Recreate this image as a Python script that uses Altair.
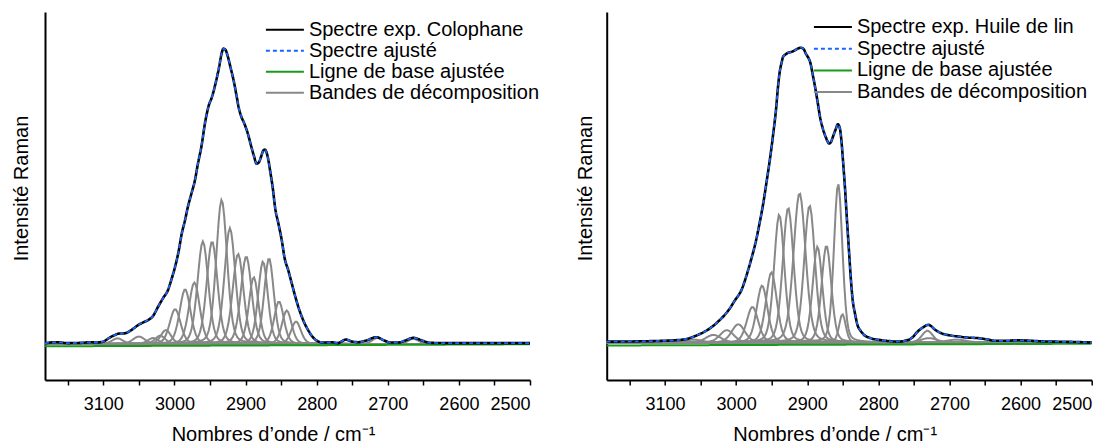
import numpy as np
import pandas as pd
import altair as alt

# ---------------- data ----------------
# Left panel: Colophane (wavenumber cm-1, relative Raman intensity)
col_wn = [3182, 3168, 3150, 3130, 3117, 3110, 3100, 3092, 3084, 3078, 3070, 3060,
          3051, 3044, 3037, 3030, 3023, 3016, 3009, 3004, 2999, 2994, 2990, 2985,
          2981, 2976, 2971, 2967, 2962, 2957, 2952, 2947, 2942, 2937, 2934, 2931,
          2928, 2925, 2921, 2917, 2913, 2910, 2906, 2902, 2897, 2892, 2888, 2884.5,
          2881, 2878, 2875, 2873, 2870, 2868, 2865, 2862, 2858, 2854, 2849, 2845,
          2840, 2835, 2830, 2825, 2821, 2816, 2812, 2807, 2802, 2796, 2790, 2780,
          2770, 2759, 2750, 2741, 2730, 2716, 2706, 2696, 2685, 2675, 2664, 2652,
          2641, 2620, 2600, 2550, 2520, 2500]
col_int = [0.2, 0.6, 0.3, 0.4, 0.6, 0.5, 0.8, 2.0, 3.0, 3.5, 3.6, 4.8,
           6.4, 7.3, 8.1, 9.5, 12.6, 15.5, 18.3, 22.0, 26.2, 31.5, 37.0, 42.0,
           46.5, 51.0, 55.6, 61.0, 66.9, 74.8, 80.5, 83.8, 88.4, 94.0, 98.0, 100.0,
           99.5, 97.4, 93.5, 89.5, 84.5, 80.5, 77.0, 74.8, 71.4, 66.9, 63.5, 61.0,
           61.6, 63.5, 65.5, 65.8, 64.5, 62.4, 58.0, 53.3, 45.5, 41.0, 35.0, 29.0,
           25.0, 20.5, 16.0, 12.0, 9.3, 6.5, 4.7, 2.8, 1.5, 0.7, 0.5, 0.6,
           0.3, 1.5, 0.8, 0.6, 1.2, 2.3, 1.3, 0.5, 0.5, 1.2, 2.1, 1.2,
           0.4, 0.3, 0.3, 0.3, 0.3, 0.3]
col_base_wn = [3182, 2500]
col_base_int = [-0.8, -0.1]
# decomposition bands: centre, height, FWHM
col_band_c = [3168, 3080, 3050, 3030, 3020, 3012, 2999, 2985, 2972, 2960, 2947,
              2933.6, 2922, 2910.5, 2899, 2888.5, 2875.5, 2867, 2853, 2842, 2829,
              2759, 2714, 2664]
col_band_h = [0.6, 1.9, 2.5, 2.0, 2.8, 4.7, 11.8, 18.5, 20.8, 34.7, 34.7,
              48.8, 39.2, 30.5, 29.6, 22.6, 27.9, 29.0, 14.4, 11.3, 7.6,
              1.4, 2.1, 1.7]
col_band_w = [16, 18, 20, 18, 17, 17, 18, 18, 18, 18, 18,
              18, 18, 18, 18, 16, 16, 16, 16, 16, 16,
              16, 18, 18]

# Right panel: Huile de lin
lin_wn = [3182, 3140, 3102, 3085, 3072, 3062, 3052, 3042, 3032, 3025, 3017, 3010,
          3002, 2992, 2987, 2982, 2977, 2972, 2967, 2962, 2957, 2952, 2948, 2944,
          2941, 2939, 2936, 2934, 2930, 2927, 2923, 2919, 2914, 2909, 2905, 2902,
          2899, 2896, 2892, 2889, 2885, 2882, 2878, 2874, 2869, 2866, 2864, 2860,
          2857, 2854, 2852, 2849.5, 2847, 2844, 2841, 2838.5, 2836, 2833, 2829, 2825,
          2821, 2811, 2796, 2785, 2771, 2763, 2756, 2751, 2746, 2741, 2736, 2732,
          2729, 2725, 2721, 2716, 2711, 2703, 2696, 2686, 2676, 2666, 2656, 2646,
          2636, 2620, 2606, 2595, 2585, 2570, 2550, 2525, 2500]
lin_int = [0.3, 0.4, 0.6, 0.8, 1.1, 1.8, 2.8, 4.0, 5.7, 7.2, 9.1, 11.2,
           14.2, 18.1, 21.5, 25.5, 29.8, 34.6, 40.5, 47.0, 54.8, 63.0, 70.5, 78.8,
           87.0, 91.3, 95.0, 96.9, 97.8, 98.3, 98.5, 98.9, 99.6, 100.0, 99.5, 98.0,
           96.8, 95.2, 90.5, 86.7, 81.0, 76.5, 72.5, 69.7, 67.5, 68.3, 69.7, 72.3,
           74.0, 72.5, 68.6, 61.0, 52.7, 41.0, 30.0, 21.0, 14.2, 10.0, 5.7, 4.0,
           2.8, 1.5, 0.8, 0.5, 0.3, 0.6, 1.1, 2.0, 3.4, 4.5, 5.3, 5.9,
           6.0, 5.4, 4.5, 3.7, 3.1, 2.6, 2.3, 2.0, 1.7, 1.6, 1.4, 1.0,
           0.6, 0.6, 0.8, 0.7, 0.6, 0.4, 0.3, 0.2, 0.0]
lin_base_wn = [3182, 2500]
lin_base_int = [-1.0, -0.4]
lin_band_c = [3060, 3032, 3013, 2997, 2977, 2963.5, 2950.4, 2939.4, 2926.8, 2910.8,
              2896.7, 2885.6, 2873, 2856.5, 2850.5, 2731, 2729, 2690, 2600]
lin_band_h = [1.0, 2.6, 4.2, 6.2, 12.1, 19.3, 23.8, 43.4, 45.7, 50.7,
              46.5, 32.5, 32.9, 53.9, 9.6, 4.0, 1.5, 1.0, 0.8]
lin_band_w = [28, 25, 23, 22, 19, 18, 18, 17, 18, 20,
              18, 16, 16, 14, 11, 18, 26, 32, 32]

ticks_wn = [3150, 3100, 3050, 3000, 2950, 2900, 2850, 2800, 2750, 2700,
            2650, 2600, 2550, 2500]

L_FIT = "Spectre ajusté"
L_BASE = "Ligne de base ajustée"
L_BAND = "Bandes de décomposition"
COLORS = ["#000000", "#1a66ff", "#1a9a1a", "#888888"]
DASHES = [[1, 0], [4, 3], [1, 0], [1, 0]]
FONT = "Liberation Sans"


def band_rows(cs, hs, ws, label):
    grid = np.arange(2500, 3184, 2.0)
    rows = []
    for i, (c, h, w) in enumerate(zip(cs, hs, ws)):
        d = (grid - c) / w
        prof = h * (0.75 * np.exp(-4 * np.log(2) * d ** 2) + 0.25 / (1 + 4 * d ** 2))
        for g, v in zip(grid, prof):
            rows.append({"wn": g, "I": v, "serie": label, "band": i})
    return pd.DataFrame(rows)


def panel(exp_label, wn, inten, bwn, bint, bc, bh, bw, ydom, leg_x, leg_y,
          title_x, row_pad):
    domain = [exp_label, L_FIT, L_BASE, L_BAND]
    exp_df = pd.DataFrame({"wn": wn, "I": inten, "serie": exp_label})
    fit_df = pd.DataFrame({"wn": wn, "I": inten, "serie": L_FIT})
    base_df = pd.DataFrame({"wn": bwn, "I": bint, "serie": L_BASE})
    bands_df = band_rows(bc, bh, bw, L_BAND)

    legend = alt.Legend(
        title=None, orient="none", legendX=leg_x, legendY=leg_y,
        symbolType="M-5,0H5", symbolSize=57.76, symbolStrokeWidth=2,
        labelOffset=14, labelFontSize=20, labelFont=FONT, labelColor="black",
        rowPadding=row_pad, padding=0, labelLimit=400,
    )
    x = alt.X("wn:Q", scale=alt.Scale(domain=[2500, 3182], reverse=True, nice=False, zero=False),
              axis=alt.Axis(values=ticks_wn, format="d",
                            labelExpr="datum.value % 100 == 0 ? datum.label : ''",
                            title="Nombres d’onde / cm⁻¹", titleX=228, titleY=60,
                            titleBaseline="alphabetic", titleAlign="center"))
    y = alt.Y("I:Q", scale=alt.Scale(domain=ydom, nice=False, zero=False),
              axis=alt.Axis(title="Intensité Raman", ticks=False, labels=False,
                            titleAngle=270, titleX=title_x, titleY=176,
                            titleBaseline="alphabetic", titleAlign="center"))
    color = alt.Color("serie:N", scale=alt.Scale(domain=domain, range=COLORS), legend=legend)
    dash = alt.StrokeDash("serie:N", scale=alt.Scale(domain=domain, range=DASHES), legend=legend)

    bands = alt.Chart(bands_df).mark_line(strokeWidth=2, clip=True).encode(
        x=x, y=y, color=color, strokeDash=dash, detail="band:N")
    base = alt.Chart(base_df).mark_line(strokeWidth=2, clip=True).encode(
        x=x, y=y, color=color, strokeDash=dash)
    exp = alt.Chart(exp_df).mark_line(strokeWidth=2.6, clip=True, interpolate="monotone").encode(
        x=x, y=y, color=color, strokeDash=dash)
    fit = alt.Chart(fit_df).mark_line(strokeWidth=1.8, clip=True, interpolate="monotone").encode(
        x=x, y=y, color=color, strokeDash=dash)
    return alt.layer(bands, base, exp, fit).properties(width=485, height=368)


left = panel("Spectre exp. Colophane", col_wn, col_int, col_base_wn, col_base_int,
             col_band_c, col_band_h, col_band_w, [-12.2, 112.4], 229.9, 7.7, -17.5, 1)
right = panel("Spectre exp. Huile de lin", lin_wn, lin_int, lin_base_wn, lin_base_int,
              lin_band_c, lin_band_h, lin_band_w, [-12.7, 112.1], 216.2, 5, -15, 1.7)

chart = alt.hconcat(left, right, spacing=76.7, bounds="flush").resolve_scale(
    color="independent", strokeDash="independent", x="independent", y="independent"
).resolve_legend(color="independent", strokeDash="independent").properties(
    padding={"left": 3, "top": 4, "right": 0, "bottom": 0}
).configure(font=FONT).configure_view(stroke=None).configure_axis(
    grid=False, domainColor="black", domainWidth=2, tickColor="black", tickWidth=1.5,
    tickSize=5, labelFontSize=18, labelFont=FONT, labelColor="black", labelPadding=10,
    titleFontSize=20, titleFont=FONT, titleColor="black", titleFontWeight="normal",
)

chart.save("out.html", embed_options={"renderer": "svg", "actions": False})
